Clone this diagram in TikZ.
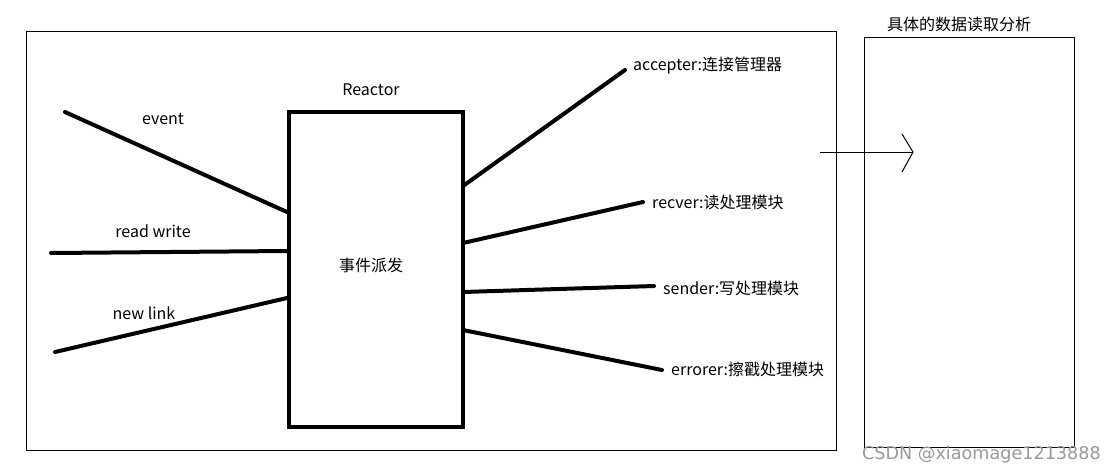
\documentclass[tikz,border=0pt]{standalone}
\usepackage{fontspec}
\setmainfont{Noto Sans CJK SC}
\newfontfamily\wmfont{DejaVu Sans}
\begin{document}
\begin{tikzpicture}[x=1pt,y=-1pt,
  thinbox/.style={draw,line width=1.3pt},
  thickbox/.style={draw,line width=4pt},
  conn/.style={line width=4pt,line cap=round},
  lbl/.style={font=\fontsize{16}{18}\selectfont,inner sep=0pt},
  rlbl/.style={lbl,anchor=west}]
\useasboundingbox (0,0) rectangle (1116,475);
\fill[white] (0,0) rectangle (1116,475);
% frames
\node[thinbox,minimum width=810pt,minimum height=419pt,anchor=north west,inner sep=0pt] (frame) at (26,31) {};
\node[thinbox,minimum width=210pt,minimum height=410pt,anchor=north west,inner sep=0pt] (detail) at (864,37) {};
\node[lbl] (detlbl) at (959,24) {具体的数据读取分析};
% reactor
\node[thickbox,minimum width=174pt,minimum height=315pt,anchor=north west,inner sep=0pt] (R) at (287,110) {};
\node[lbl] (rlabel) at (371,90) {Reactor};
\node[lbl] (disp) at (371,265) {事件派发};
% left side
\coordinate (e1) at (65,112);
\coordinate (e2) at (287,212);
\coordinate (w1) at (51,253);
\coordinate (w2) at (287,251);
\coordinate (n1) at (55,352);
\coordinate (n2) at (287,298);
\draw[conn] (e1) -- (e2);
\draw[conn] (w1) -- (w2);
\draw[conn] (n1) -- (n2);
\node[lbl] (lev) at (163,119) {event};
\node[lbl] (lrw) at (153,231) {read write};
\node[lbl] (lnl) at (144,313) {new link};
% right side
\coordinate (a1) at (463,186);
\coordinate (a2) at (625,70);
\coordinate (b1) at (463,243);
\coordinate (b2) at (643,202);
\coordinate (c1) at (463,292);
\coordinate (c2) at (654,286);
\coordinate (d1) at (463,330);
\coordinate (d2) at (662,370);
\draw[conn] (a1) -- (a2);
\draw[conn] (b1) -- (b2);
\draw[conn] (c1) -- (c2);
\draw[conn] (d1) -- (d2);
\node[rlbl] (la) at (633,66) {accepter:连接管理器};
\node[rlbl] (lb) at (652,202) {recver:读处理模块};
\node[rlbl] (lc) at (663,288) {sender:写处理模块};
\node[rlbl] (ld) at (671,369) {errorer:擦戳处理模块};
% arrow
\coordinate (ar1) at (820,152);
\coordinate (ar2) at (913,152);
\draw[line width=1pt] (ar1) -- (ar2);
\draw[line width=1pt] (902,134) -- (ar2) -- (902,172);
% watermark
\node[font=\wmfont\fontsize{17.6}{19}\selectfont,text=black!40,anchor=west,inner sep=0pt] (wm) at (862,455) {CSDN @xiaomage1213888};
\end{tikzpicture}
\end{document}
